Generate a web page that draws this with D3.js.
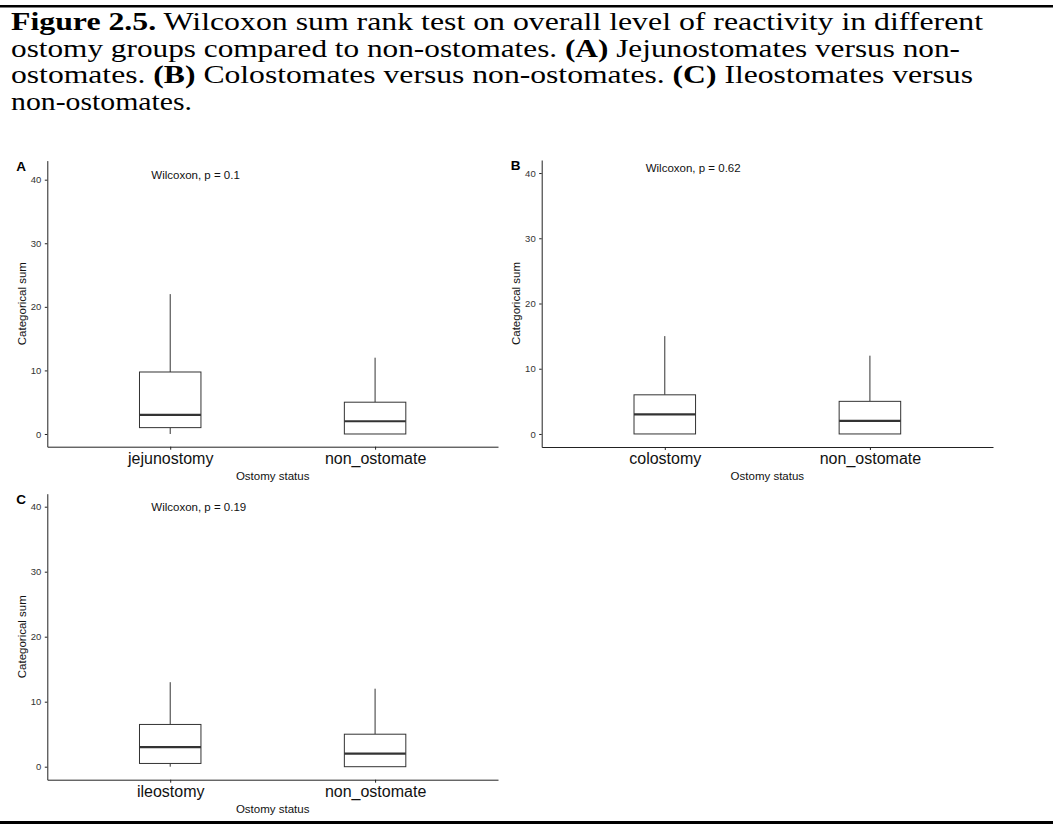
<!DOCTYPE html>
<html lang="en">
<head>
<meta charset="utf-8">
<style>
  body { margin: 0; background: white; }
  svg { display: block; background: white; }
  .caption { font-family: "Liberation Serif"; font-size: 26px; fill: #000; }
  .plot text { font-family: "Liberation Sans", Arial, Helvetica, sans-serif; }
  .axis path, .axis line { stroke: #222; }
  .axis-y text { font-size: 9.5px; fill: #333; }
  .axis-x text { font-size: 16px; fill: #111; }
  .box rect { fill: white; stroke: #333; stroke-width: 1; }
  .box line.whisker { stroke: #333; stroke-width: 1; }
  .box line.median { stroke: #333; stroke-width: 2.2; }
</style>
</head>
<body>
<svg width="1053" height="824"></svg>
<script src="https://d3js.org/d3.v7.min.js"></script>
<script>
// ---- data ----
const captionLines = [
  [["Figure 2.5.", true], [" Wilcoxon sum rank test on overall level of reactivity in different", false]],
  [["ostomy groups compared to non-ostomates. ", false], ["(A)", true], [" Jejunostomates versus non-", false]],
  [["ostomates. ", false], ["(B)", true], [" Colostomates versus non-ostomates. ", false], ["(C)", true], [" Ileostomates versus", false]],
  [["non-ostomates.", false]]
];
const panelLetters = ["A", "B", "C"];
const panelCategories = [
  ["jejunostomy", "non_ostomate"],
  ["colostomy", "non_ostomate"],
  ["ileostomy", "non_ostomate"]
];
const lowerWhisker = [[0, 0], [0, 0], [0, 0]];
const lowerHinge = [[1, 0], [0, 0], [0.5, 0]];
const medians = [[3, 2], [3, 2], [3, 2]];
const upperHinge = [[9.75, 5], [6, 5], [6.5, 5]];
const upperWhisker = [[22, 12], [15, 12], [13, 12]];
const pLabels = ["Wilcoxon, p = 0.1", "Wilcoxon, p = 0.62", "Wilcoxon, p = 0.19"];
const pLabelY = [40.1, 40.2, 39.4];
const yTicks = [0, 10, 20, 30, 40];
const yLimits = [[-2, 43], [-2, 42], [-2, 42]];
const xTitle = "Ostomy status";
const yTitle = "Categorical sum";

// ---- layout ----
const captionX = 11;
const captionBaselines = [30, 56.5, 83, 109.5];
const captionWidths = [972, 949, 962, 181];
const panels = [
  { x0: 47.3, x1: 498, bottom: 446.7, top: 160.6 },
  { x0: 541.7, x1: 993, bottom: 447, top: 160 },
  { x0: 47.3, x1: 498, bottom: 779.7, top: 493.7 }
];

const svg = d3.select("svg");

// page rules
svg.append("rect").attr("x", 0).attr("y", 5).attr("width", 1053).attr("height", 2.5).attr("fill", "#000");
svg.append("rect").attr("x", 0).attr("y", 821).attr("width", 1053).attr("height", 3).attr("fill", "#000");

// caption
captionLines.forEach(function (parts, i) {
  const t = svg.append("text")
    .attr("class", "caption")
    .attr("x", captionX)
    .attr("y", captionBaselines[i])
    .attr("textLength", captionWidths[i])
    .attr("lengthAdjust", "spacingAndGlyphs")
    .style("white-space", "pre");
  parts.forEach(function (p) {
    t.append("tspan")
      .attr("font-weight", p[1] ? "bold" : "normal")
      .text(p[0]);
  });
});

// panels
panels.forEach(function (pan, i) {
  const g = svg.append("g").attr("class", "plot");

  const x = d3.scalePoint()
    .domain(panelCategories[i])
    .range([pan.x0, pan.x1])
    .padding(0.6);
  const y = d3.scaleLinear()
    .domain(yLimits[i])
    .range([pan.bottom, pan.top]);
  const bw = x.step() * 0.3;

  // boxes
  const stats = panelCategories[i].map(function (c, j) {
    return { cat: c, lo: lowerWhisker[i][j], q1: lowerHinge[i][j], med: medians[i][j], q3: upperHinge[i][j], hi: upperWhisker[i][j] };
  });
  const box = g.selectAll("g.box")
    .data(stats)
    .enter().append("g")
    .attr("class", "box");
  box.append("line").attr("class", "whisker")
    .attr("x1", d => x(d.cat)).attr("x2", d => x(d.cat))
    .attr("y1", d => y(d.q3)).attr("y2", d => y(d.hi));
  box.append("line").attr("class", "whisker")
    .attr("x1", d => x(d.cat)).attr("x2", d => x(d.cat))
    .attr("y1", d => y(d.q1)).attr("y2", d => y(d.lo));
  box.append("rect")
    .attr("x", d => x(d.cat) - bw / 2)
    .attr("width", bw)
    .attr("y", d => y(d.q3))
    .attr("height", d => Math.max(0, y(d.q1) - y(d.q3)));
  box.append("line").attr("class", "median")
    .attr("x1", d => x(d.cat) - bw / 2).attr("x2", d => x(d.cat) + bw / 2)
    .attr("y1", d => y(d.med)).attr("y2", d => y(d.med));

  // axes
  g.append("g")
    .attr("class", "axis axis-y")
    .attr("transform", "translate(" + pan.x0 + ",0)")
    .call(d3.axisLeft(y).tickValues(yTicks).tickSize(2.5).tickSizeOuter(0).tickPadding(3.5));
  g.append("g")
    .attr("class", "axis axis-x")
    .attr("transform", "translate(0," + pan.bottom + ")")
    .call(d3.axisBottom(x).tickSize(3).tickSizeOuter(0).tickPadding(3.1));
  g.selectAll(".axis").attr("font-family", null).attr("font-size", null);

  // titles
  g.append("text")
    .attr("x", (pan.x0 + pan.x1) / 2)
    .attr("y", pan.bottom + 33)
    .attr("text-anchor", "middle")
    .attr("font-size", 11.5)
    .attr("fill", "#111")
    .text(xTitle);
  g.append("text")
    .attr("transform", "translate(" + (pan.x0 - 25.8) + "," + ((pan.bottom + pan.top) / 2) + ") rotate(-90)")
    .attr("text-anchor", "middle")
    .attr("dominant-baseline", "central")
    .attr("font-size", 11.5)
    .attr("fill", "#111")
    .text(yTitle);

  // panel letter
  g.append("text")
    .attr("x", pan.x0 - 31)
    .attr("y", pan.top + 10)
    .attr("font-size", 13.5)
    .attr("font-weight", "bold")
    .attr("fill", "#000")
    .text(panelLetters[i]);

  // test label
  g.append("text")
    .attr("x", pan.x0 + 104)
    .attr("y", y(pLabelY[i]))
    .attr("font-size", 11.5)
    .attr("fill", "#111")
    .text(pLabels[i]);
});
</script>
</body>
</html>
